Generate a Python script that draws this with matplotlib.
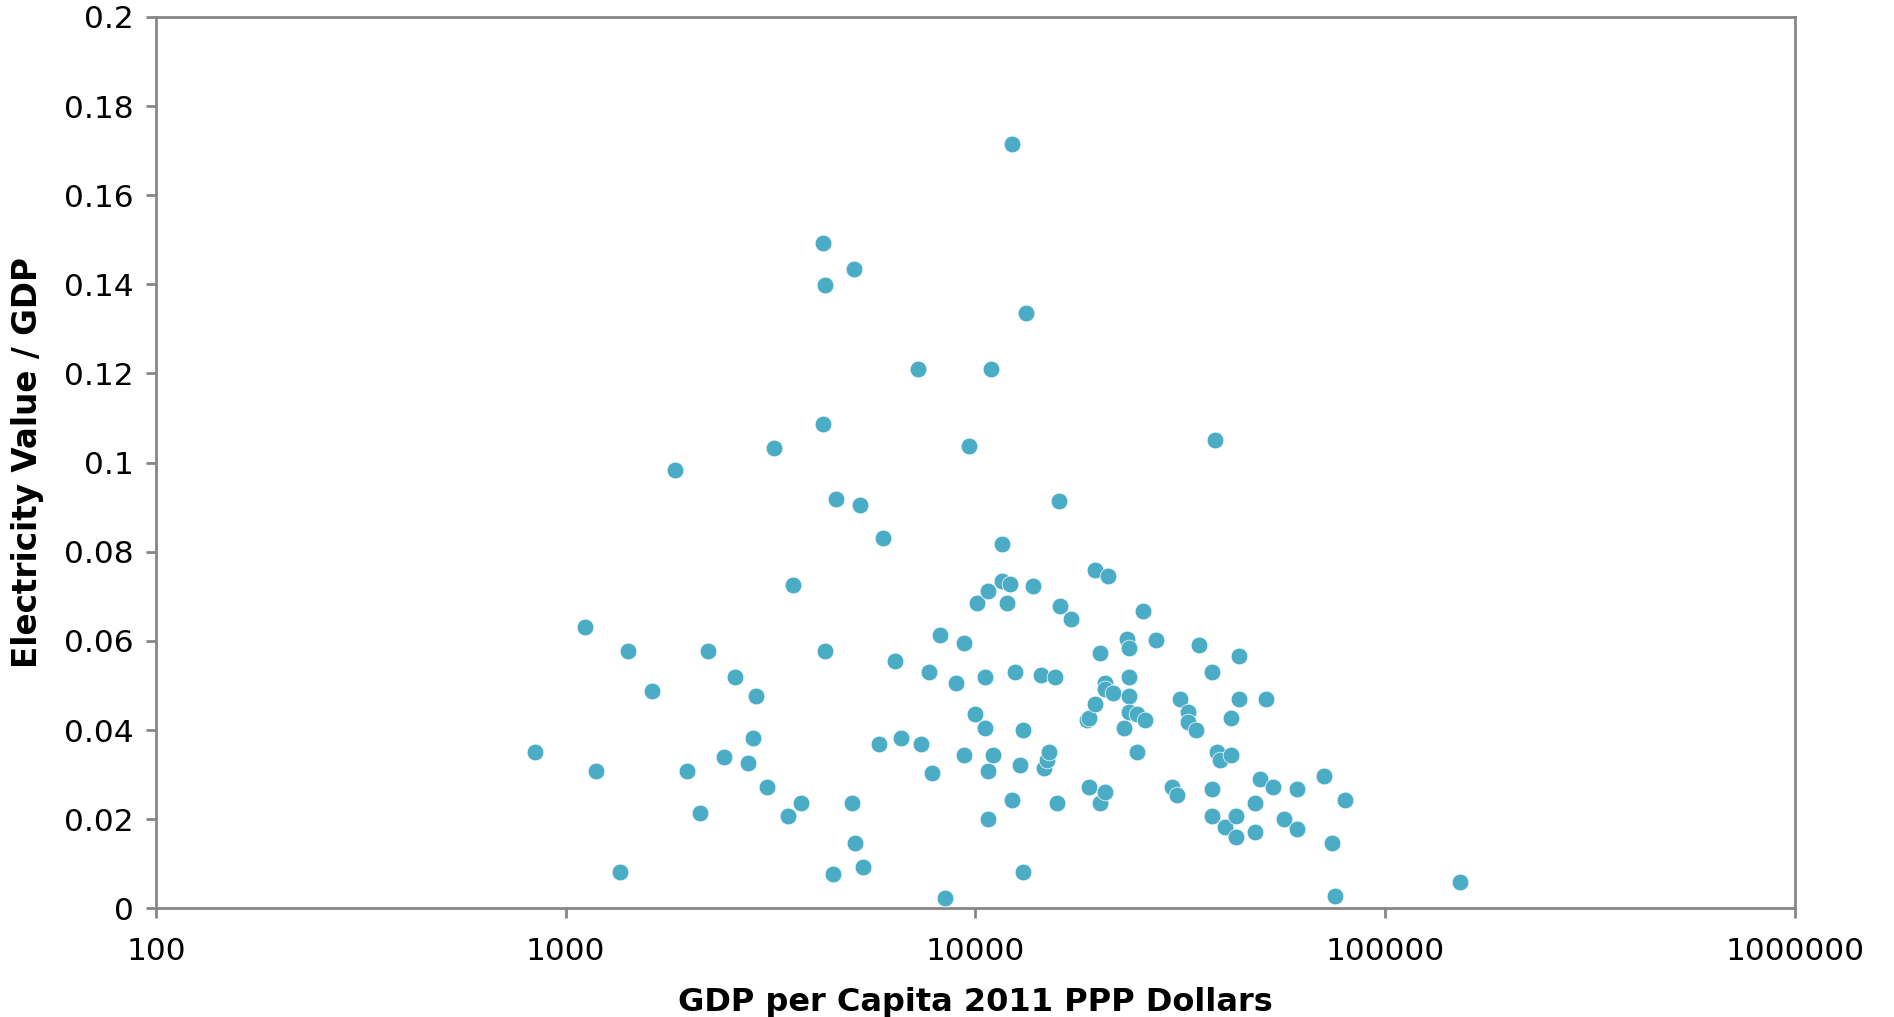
import matplotlib
matplotlib.use("Agg")
import matplotlib.pyplot as plt
from matplotlib.ticker import FixedLocator, FuncFormatter, NullLocator

# GDP per capita (2011 PPP dollars) and electricity value as a share of GDP
gdp_per_capita = [
    840, 1116, 1186, 1357, 1420, 1624, 1851, 1973, 2128, 2225,
    2434, 2585, 2786, 2871, 2914, 3095, 3230, 3486, 3593, 3761,
    4238, 4238, 4296, 4298, 4498, 4566, 4995, 5054, 5071, 5228,
    5303, 5805, 5936, 6362, 6589, 7244, 7379, 7717, 7833, 8197,
    8446, 8967, 9376, 9376, 9634, 9959, 10108, 10572, 10572, 10754,
    10732, 10732, 10886, 11057, 11588, 11588, 12145, 11924, 12302, 12290,
    12470, 12848, 13041, 13041, 13257, 13842, 14477, 14705, 14927, 15153,
    15613, 15848, 16032, 16085, 17076, 18684, 18966, 18966, 19551, 19540,
    20132, 20132, 20743, 20743, 20743, 21086, 21708, 23046, 23394, 23741,
    23741, 23741, 23741, 24831, 24831, 25603, 25971, 27594, 30130, 31046,
    31559, 33025, 33025, 34540, 35130, 37849, 37849, 37849, 38474, 38938,
    39531, 40735, 41976, 41976, 43235, 43235, 43986, 43986, 48072, 48072,
    49500, 51069, 53330, 56660, 61050, 61050, 70870, 74170, 75290, 79920,
    152270,
]
elec_value_share = [
    0.0351, 0.0632, 0.0309, 0.0082, 0.0578, 0.0488, 0.0984, 0.0309, 0.0213, 0.0578,
    0.0339, 0.0518, 0.0327, 0.0381, 0.0476, 0.0273, 0.1033, 0.0207, 0.0726, 0.0237,
    0.1493, 0.1087, 0.1398, 0.0578, 0.0076, 0.0919, 0.0237, 0.1434, 0.0147, 0.0905,
    0.0093, 0.0369, 0.0830, 0.0554, 0.0381, 0.1211, 0.0369, 0.0530, 0.0303, 0.0614,
    0.0022, 0.0506, 0.0596, 0.0345, 0.1038, 0.0435, 0.0686, 0.0405, 0.0518, 0.0711,
    0.0309, 0.0201, 0.1211, 0.0345, 0.0817, 0.0734, 0.0728, 0.0686, 0.1715, 0.0243,
    0.0530, 0.0321, 0.0399, 0.0082, 0.1336, 0.0722, 0.0524, 0.0315, 0.0333, 0.0351,
    0.0518, 0.0237, 0.0913, 0.0679, 0.0650, 0.0422, 0.0428, 0.0273, 0.0758, 0.0459,
    0.0237, 0.0572, 0.0506, 0.0261, 0.0493, 0.0746, 0.0482, 0.0405, 0.0604, 0.0584,
    0.0518, 0.0476, 0.0441, 0.0435, 0.0351, 0.0668, 0.0422, 0.0602, 0.0273, 0.0255,
    0.0470, 0.0441, 0.0417, 0.0399, 0.0590, 0.0530, 0.0267, 0.0207, 0.1051, 0.0351,
    0.0333, 0.0183, 0.0428, 0.0345, 0.0207, 0.0159, 0.0566, 0.0470, 0.0237, 0.0171,
    0.0291, 0.0470, 0.0273, 0.0201, 0.0267, 0.0177, 0.0297, 0.0147, 0.0028, 0.0243,
    0.0058,
]

x_ticks = [100, 1000, 10000, 100000, 1000000]
y_ticks = [0, 0.02, 0.04, 0.06, 0.08, 0.1, 0.12, 0.14, 0.16, 0.18, 0.2]

axis_grey = "#868686"
marker_blue = "#4BACC6"

plt.rcParams["font.family"] = ["DejaVu Sans"]

fig = plt.figure(figsize=(18.94, 10.17), dpi=100)
ax = fig.add_axes([0.0823, 0.1069, 0.8654, 0.8765])

ax.scatter(gdp_per_capita, elec_value_share, s=145, color=marker_blue,
           edgecolors="white", linewidths=0.5, zorder=3, clip_on=False)

ax.set_xscale("log")
ax.set_xlim(100, 1000000)
ax.set_ylim(0, 0.2)

ax.xaxis.set_major_locator(FixedLocator(x_ticks))
ax.xaxis.set_minor_locator(NullLocator())
ax.xaxis.set_major_formatter(FuncFormatter(lambda v, _: f"{int(round(v))}"))
ax.yaxis.set_major_locator(FixedLocator(y_ticks))
ax.yaxis.set_major_formatter(FuncFormatter(lambda v, _: f"{v:g}"))

for side in ["left", "right", "top", "bottom"]:
    ax.spines[side].set_color(axis_grey)
    ax.spines[side].set_linewidth(2.0)

ax.tick_params(axis="both", which="major", direction="out", length=7,
               width=2.0, color=axis_grey, labelsize=22.5, labelcolor="black")
ax.tick_params(axis="x", pad=14)
ax.tick_params(axis="y", pad=9)

ax.set_xlabel("GDP per Capita 2011 PPP Dollars", fontsize=23, fontweight="bold",
              labelpad=15)
ax.set_ylabel("Electricity Value / GDP", fontsize=23.5, fontweight="bold",
              labelpad=14)

fig.savefig("out.png", dpi=100)
